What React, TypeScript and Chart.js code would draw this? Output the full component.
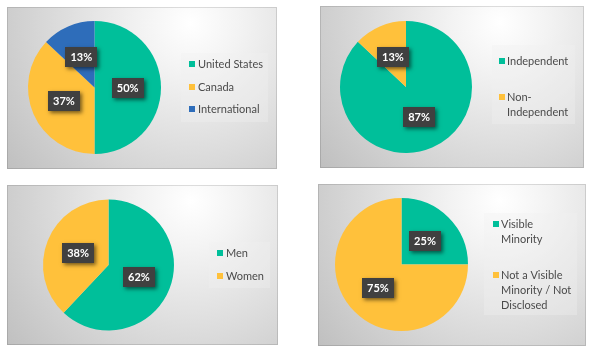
import React, { useEffect, useRef } from "react";
import { Chart, PieController, ArcElement } from "chart.js";

Chart.register(PieController, ArcElement);

// ---------- data ----------
const geoCategories: (string | string[])[] = ["United States", "Canada", "International"];
const geoValues = [50, 37, 13];

const independenceCategories: (string | string[])[] = ["Independent", ["Non-", "Independent"]];
const independenceValues = [87, 13];

const genderCategories: (string | string[])[] = ["Men", "Women"];
const genderValues = [62, 38];

const minorityCategories: (string | string[])[] = [
  ["Visible", "Minority"],
  ["Not a Visible", "Minority / Not", "Disclosed"],
];
const minorityValues = [25, 75];

// ---------- style ----------
const TEAL = "#00BF9A";
const GOLD = "#FFC13B";
const BLUE = "#2E6DBA";
const FONT = "Lato, 'Liberation Sans', sans-serif";

type Panel = {
  rect: { x: number; y: number; w: number; h: number };
  padding: { left: number; right: number; top: number; bottom: number };
  legend: { x: number; y: number; w: number; h: number; markerX: number; textX: number; itemY: number[] };
  categories: (string | string[])[];
  values: number[];
  colors: string[];
};

const panels: Panel[] = [
  {
    rect: { x: 7, y: 7, w: 270, h: 162 },
    padding: { left: 21, right: 116, top: 14, bottom: 15 },
    legend: { x: 174, y: 46, w: 87, h: 69, markerX: 182, textX: 191, itemY: [57, 80, 102] },
    categories: geoCategories,
    values: geoValues,
    colors: [TEAL, GOLD, BLUE],
  },
  {
    rect: { x: 320, y: 6, w: 264, h: 162 },
    padding: { left: 20, right: 112, top: 15, bottom: 15 },
    legend: { x: 172, y: 39, w: 83, h: 79, markerX: 179, textX: 187, itemY: [55, 91] },
    categories: independenceCategories,
    values: independenceValues,
    colors: [TEAL, GOLD],
  },
  {
    rect: { x: 7, y: 185, w: 271, h: 160 },
    padding: { left: 36, right: 104, top: 14, bottom: 14 },
    legend: { x: 202, y: 57, w: 61, h: 46, markerX: 210, textX: 219, itemY: [68, 91] },
    categories: genderCategories,
    values: genderValues,
    colors: [TEAL, GOLD],
  },
  {
    rect: { x: 318, y: 184, w: 268, h: 162 },
    padding: { left: 17, right: 118, top: 14, bottom: 15 },
    legend: { x: 166, y: 29, w: 93, h: 102, markerX: 175, textX: 183, itemY: [40, 91] },
    categories: minorityCategories,
    values: minorityValues,
    colors: [TEAL, GOLD],
  },
];

function makePlugin(p: Panel) {
  return {
    id: "panelDecor",
    beforeDraw(chart: any) {
      const ctx: CanvasRenderingContext2D = chart.ctx;
      const w = chart.width;
      const h = chart.height;
      ctx.save();
      const g = ctx.createRadialGradient(w * 0.68, h * 0.1, 0, w * 0.68, h * 0.1, w * 0.9);
      g.addColorStop(0, "#ffffff");
      g.addColorStop(0.2, "#f3f3f3");
      g.addColorStop(1, "#bdbdbd");
      ctx.fillStyle = g;
      ctx.fillRect(0, 0, w, h);
      ctx.strokeStyle = "rgba(0,0,0,0.12)";
      ctx.lineWidth = 1;
      ctx.strokeRect(0.5, 0.5, w - 1, h - 1);
      ctx.restore();
    },
    afterDraw(chart: any) {
      const ctx: CanvasRenderingContext2D = chart.ctx;
      const meta = chart.getDatasetMeta(0);
      const data: number[] = chart.data.datasets[0].data;
      const total = data.reduce((a, b) => a + b, 0);
      // data labels
      ctx.save();
      ctx.font = `bold 11px ${FONT}`;
      ctx.textAlign = "center";
      ctx.textBaseline = "middle";
      meta.data.forEach((arc: any, i: number) => {
        const pos = arc.tooltipPosition(false);
        const txt = Math.round((data[i] / total) * 100) + "%";
        const tw = ctx.measureText(txt).width;
        const bw = Math.round(tw + 10);
        const bh = 20;
        const bx = Math.round(pos.x - bw / 2);
        const by = Math.round(pos.y - bh / 2);
        ctx.save();
        ctx.shadowColor = "rgba(0,0,0,0.55)";
        ctx.shadowBlur = 4;
        ctx.shadowOffsetX = 2;
        ctx.shadowOffsetY = 2;
        ctx.fillStyle = "#404040";
        ctx.fillRect(bx, by, bw, bh);
        ctx.restore();
        ctx.fillStyle = "#ffffff";
        ctx.fillText(txt, pos.x, pos.y + 0.5);
      });
      ctx.restore();

      // legend
      const L = p.legend;
      ctx.save();
      ctx.fillStyle = "rgba(242,242,242,0.35)";
      ctx.fillRect(L.x, L.y, L.w, L.h);
      ctx.font = `11px ${FONT}`;
      ctx.textAlign = "left";
      ctx.textBaseline = "middle";
      const labels: (string | string[])[] = chart.data.labels;
      const colors: string[] = chart.data.datasets[0].backgroundColor;
      labels.forEach((lab, i) => {
        const lines = Array.isArray(lab) ? lab : [lab];
        const y0 = L.itemY[i];
        ctx.fillStyle = colors[i];
        ctx.fillRect(L.markerX, Math.round(y0 - 3), 6, 6);
        ctx.fillStyle = "#4a4a4a";
        lines.forEach((ln, j) => ctx.fillText(ln, L.textX, y0 + j * 15));
      });
      ctx.restore();
    },
  };
}

function PiePanel({ p }: { p: Panel }) {
  const ref = useRef<HTMLCanvasElement | null>(null);
  useEffect(() => {
    if (!ref.current) return;
    const chart = new Chart(ref.current, {
      type: "pie",
      data: {
        labels: p.categories as any,
        datasets: [
          {
            data: p.values,
            backgroundColor: p.colors,
            borderWidth: 0,
          },
        ],
      },
      options: {
        animation: false,
        responsive: false,
        maintainAspectRatio: false,
        devicePixelRatio: 1,
        layout: { padding: p.padding },
        plugins: {
          legend: { display: false },
          tooltip: { enabled: false },
        } as any,
        events: [],
      },
      plugins: [makePlugin(p)],
    });
    return () => chart.destroy();
  }, [p]);
  return (
    <canvas
      ref={ref}
      width={p.rect.w}
      height={p.rect.h}
      style={{ position: "absolute", left: p.rect.x, top: p.rect.y, width: p.rect.w, height: p.rect.h }}
    />
  );
}

export default function App() {
  useEffect(() => {
    document.body.style.margin = "0";
    document.body.style.background = "#ffffff";
  }, []);
  return (
    <div style={{ position: "relative", width: 594, height: 357, background: "#fff", overflow: "hidden" }}>
      {panels.map((p, i) => (
        <PiePanel key={i} p={p} />
      ))}
    </div>
  );
}
